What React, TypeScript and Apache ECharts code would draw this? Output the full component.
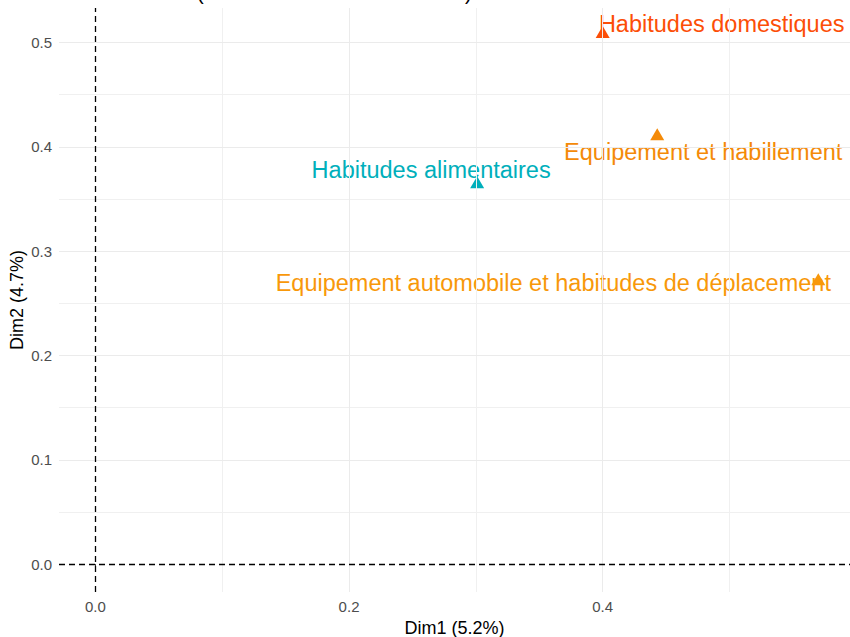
import React, { useEffect, useRef } from "react";
import * as echarts from "echarts";

const categories = [
  "Habitudes domestiques",
  "Equipement et habillement",
  "Habitudes alimentaires",
  "Equipement automobile et habitudes de déplacement",
];
const dim1 = [0.4, 0.443, 0.301, 0.57];
const dim2 = [0.51, 0.412, 0.366, 0.273];
const xTicks = [0, 0.2, 0.4];
const xMinor = [0.1, 0.3, 0.5];
const yTicks = [0, 0.1, 0.2, 0.3, 0.4, 0.5];
const yMinor = [0.05, 0.15, 0.25, 0.35, 0.45];
const xTitle = "Dim1 (5.2%)";
const yTitle = "Dim2 (4.7%)";

const pointColors = ["#FC4E07", "#F48A08", "#00AFBB", "#F8980A"];
const labelOffsets: [number, number][] = [
  [119, -8],
  [46, 18],
  [-46, -12],
  [-265, 4],
];

export default function App() {
  const ref = useRef<HTMLDivElement>(null);
  useEffect(() => {
    if (!ref.current) return;
    const chart = echarts.init(ref.current, undefined, { renderer: "svg" });
    const font = "Liberation Sans, Arial, sans-serif";
    const grid = { color: "#EBEBEB", width: 1, type: "solid" as const };
    const gridMinor = { color: "#F0F0F0", width: 1, type: "solid" as const };
    const dash = { color: "#000", width: 1.3, type: [6, 4] as any };
    chart.setOption({
      animation: false,
      textStyle: { fontFamily: font },
      grid: {
        left: 59,
        right: 0,
        top: 8,
        bottom: 45,
        containLabel: false,
        outerBoundsMode: "none",
      },
      xAxis: {
        type: "value",
        min: -0.0287,
        max: 0.595,
        name: xTitle,
        nameLocation: "middle",
        nameGap: 27,
        nameMoveOverlap: false,
        nameTextStyle: { color: "#000", fontSize: 18, fontFamily: font },
        axisLine: { show: false },
        splitLine: { show: false },
        axisTick: {
          show: true,
          customValues: xTicks,
          length: 4,
          lineStyle: { color: "#333" },
        },
        axisLabel: {
          customValues: xTicks,
          formatter: (v: number) => v.toFixed(1),
          color: "#4D4D4D",
          fontSize: 15,
          margin: 7,
        },
      },
      yAxis: {
        type: "value",
        min: -0.0266,
        max: 0.533,
        name: yTitle,
        nameLocation: "middle",
        nameGap: 33,
        nameMoveOverlap: false,
        nameTextStyle: { color: "#000", fontSize: 18, fontFamily: font },
        axisLine: { show: false },
        splitLine: { show: false },
        axisTick: {
          show: true,
          customValues: yTicks,
          length: 4,
          lineStyle: { color: "#333" },
        },
        axisLabel: {
          customValues: yTicks,
          formatter: (v: number) => v.toFixed(1),
          color: "#4D4D4D",
          fontSize: 15,
          margin: 7,
        },
      },
      graphic: [
        { type: "text", left: 197, top: -17, style: { text: "(", fontSize: 20, fill: "#000", fontFamily: font } },
        { type: "text", left: 465, top: -17, style: { text: ")", fontSize: 20, fill: "#000", fontFamily: font } },
      ],
      series: [
        {
          type: "scatter",
          data: [],
          z: 1,
          silent: true,
          markLine: {
            silent: true,
            symbol: "none",
            label: { show: false },
            data: [
              ...xMinor.map((v) => ({ xAxis: v, lineStyle: gridMinor })),
              ...yMinor.map((v) => ({ yAxis: v, lineStyle: gridMinor })),
              ...xTicks.filter((v) => v !== 0).map((v) => ({ xAxis: v, lineStyle: grid })),
              ...yTicks.filter((v) => v !== 0).map((v) => ({ yAxis: v, lineStyle: grid })),
            ],
          },
        },
        {
          type: "scatter",
          data: [],
          z: 2,
          silent: true,
          markLine: {
            silent: true,
            symbol: "none",
            label: { show: false },
            data: [
              { xAxis: 0, lineStyle: dash },
              { yAxis: 0, lineStyle: dash },
            ],
          },
        },
        {
          type: "scatter",
          z: 3,
          symbol: "triangle",
          symbolSize: [14, 12],
          itemStyle: { opacity: 1 },
          data: categories.map((name, i) => ({
            name,
            value: [dim1[i], dim2[i]],
            itemStyle: { color: pointColors[i], opacity: 1 },
            label: {
              show: true,
              formatter: name,
              position: "inside",
              align: "center",
              verticalAlign: "middle",
              offset: labelOffsets[i],
              color: pointColors[i],
              opacity: 1,
              fontSize: 23.5,
              fontFamily: font,
            },
          })),
        },
      ],
    });
    return () => chart.dispose();
  }, []);
  return (
    <div
      ref={ref}
      style={{ position: "absolute", left: 0, top: 0, width: 850, height: 637 }}
    />
  );
}
